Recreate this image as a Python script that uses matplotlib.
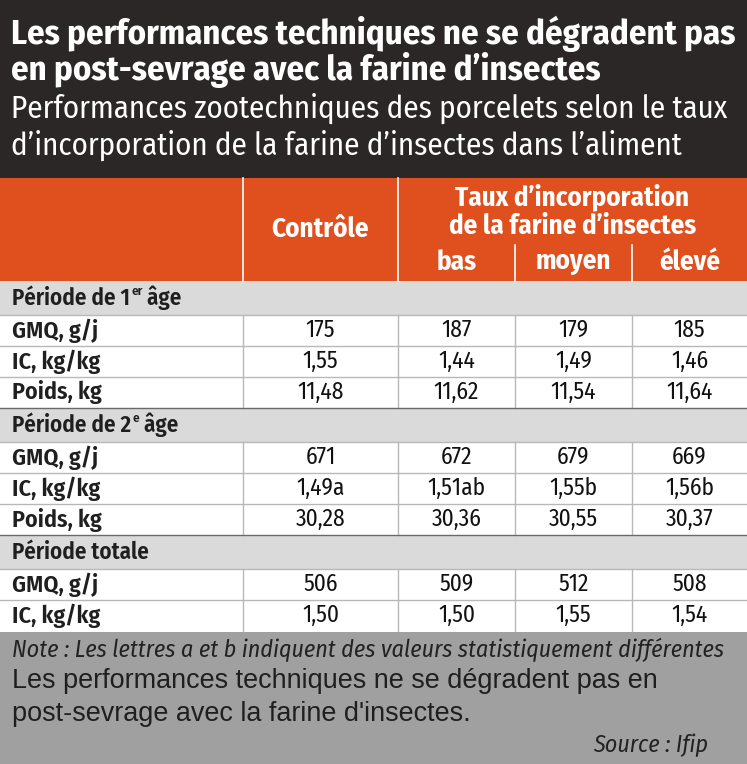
import matplotlib
matplotlib.use("Agg")
import matplotlib.pyplot as plt
from matplotlib.patches import Rectangle
from matplotlib import font_manager as fm

W, H = 747, 764

title = ["Les performances techniques ne se dégradent pas",
         "en post-sevrage avec la farine d’insectes"]
subtitle = ["Performances zootechniques des porcelets selon le taux",
            "d’incorporation de la farine d’insectes dans l’aliment"]
group_header = ["Taux d’incorporation", "de la farine d’insectes"]
columns = ["Contrôle", "bas", "moyen", "élevé"]

sections = [("Période de 1", "er", " âge"),
            ("Période de 2", "e", " âge"),
            ("Période totale", "", "")]
row_labels = [["GMQ, g/j", "IC, kg/kg", "Poids, kg"],
              ["GMQ, g/j", "IC, kg/kg", "Poids, kg"],
              ["GMQ, g/j", "IC, kg/kg"]]
controle = [["175", "1,55", "11,48"], ["671", "1,49a", "30,28"], ["506", "1,50"]]
bas = [["187", "1,44", "11,62"], ["672", "1,51ab", "30,36"], ["509", "1,50"]]
moyen = [["179", "1,49", "11,54"], ["679", "1,55b", "30,55"], ["512", "1,55"]]
eleve = [["185", "1,46", "11,64"], ["669", "1,56b", "30,37"], ["508", "1,54"]]

note = "Note : Les lettres a et b indiquent des valeurs statistiquement différentes"
caption = ["Les performances techniques ne se dégradent pas en",
           "post-sevrage avec la farine d'insectes."]
source = "Source : Ifip"

# condensed face if present, otherwise DejaVu with smaller sizes
available = set(f.name for f in fm.fontManager.ttflist)
if "Fira Sans Condensed" in available:
    FONT, K = ["Fira Sans Condensed", "DejaVu Sans"], 1.0
else:
    FONT, K = ["DejaVu Sans"], 0.74
BODY = ["Liberation Sans", "DejaVu Sans"]

DARK = "#2b2727"
ORANGE = "#e0501f"
BAND = "#dadada"
FOOT = "#a0a0a0"
LINE = "#b8b8b8"
INK = "#1f1f1f"

fig = plt.figure(figsize=(W / 100, H / 100), dpi=100)
ax = fig.add_axes([0, 0, 1, 1])
ax.set_xlim(0, W)
ax.set_ylim(H, 0)
ax.axis("off")


def px(v, k=None):
    return v * 72 / 100 * (K if k is None else k)


def rect(x0, y0, x1, y1, c):
    ax.add_patch(Rectangle((x0, y0), x1 - x0, y1 - y0, color=c, lw=0))


# backgrounds
rect(0, 0, W, 178, DARK)
rect(0, 178, W, 281, ORANGE)
rect(0, 632, W, H, FOOT)

for i, t in enumerate(title):
    ax.text(11, 34 + i * 36, t, color="white", fontsize=px(34.7), fontweight="bold",
            family=FONT, va="center", ha="left")
for i, t in enumerate(subtitle):
    ax.text(11, 108 + i * 37, t, color="white", fontsize=px(31),
            family=FONT, va="center", ha="left")

col_x = [243, 398, 515, 632, W]
centers = [(col_x[i] + col_x[i + 1]) / 2 for i in range(4)]

# header
ax.plot([243, 243], [178, 281], color="white", lw=1.2)
ax.plot([398, 398], [178, 281], color="white", lw=1.2)
for x in (515, 632):
    ax.plot([x, x], [245, 281], color="white", lw=1.2)
ax.text(centers[0], 229, columns[0], color="white", fontsize=px(27), fontweight="bold",
        family=FONT, ha="center", va="center")
for i, t in enumerate(group_header):
    ax.text((398 + W) / 2, 197 + i * 29, t, color="white", fontsize=px(27),
            fontweight="bold", family=FONT, ha="center", va="center")
for c, t in zip(centers[1:], columns[1:]):
    ax.text(c, 262, t, color="white", fontsize=px(27), fontweight="bold",
            family=FONT, ha="center", va="center")

fig.canvas.draw()
renderer = fig.canvas.get_renderer()


def right_edge(t):
    bb = t.get_window_extent(renderer)
    return ax.transData.inverted().transform((bb.x1, bb.y0))[0]


y = 281
row_h = 31
band_h = 34
for s, sec in enumerate(sections):
    rect(0, y, W, y + band_h, BAND)
    yc = y + band_h / 2
    t1 = ax.text(12, yc, sec[0], color=INK, fontsize=px(23), fontweight="semibold",
                 family=FONT, ha="left", va="center")
    if sec[1]:
        t2 = ax.text(right_edge(t1) + 1, yc - 7, sec[1], color=INK, fontsize=px(13),
                     fontweight="semibold", family=FONT, ha="left", va="center")
        ax.text(right_edge(t2), yc, sec[2], color=INK, fontsize=px(23),
                fontweight="semibold", family=FONT, ha="left", va="center")
    y += band_h
    n = len(row_labels[s])
    for r in range(n):
        ax.plot([0, W], [y, y], color=LINE, lw=1)
        yc = y + row_h / 2
        ax.text(12, yc, row_labels[s][r], color=INK, fontsize=px(24),
                fontweight="semibold", family=FONT, ha="left", va="center")
        vals = [controle[s][r], bas[s][r], moyen[s][r], eleve[s][r]]
        for c, v in zip(centers, vals):
            ax.text(c, yc, v, color="#111111", fontsize=px(23.5), fontweight="normal",
                    family=FONT, ha="center", va="center")
        for x in col_x[:4]:
            ax.plot([x, x], [y, y + row_h], color=LINE, lw=1)
        y += row_h
    if s < len(sections) - 1:
        ax.plot([0, W], [y, y], color="#6a6a6a", lw=1)

ax.text(12, 650, note, color="#222222", fontsize=px(24), style="italic",
        family=FONT, ha="left", va="center")
for i, t in enumerate(caption):
    ax.text(12, 681 + i * 33, t, color=INK, fontsize=px(27, 1.0),
            family=BODY, ha="left", va="center")
ax.text(708, 745, source, color="#222222", fontsize=px(24), style="italic",
        family=FONT, ha="right", va="center")

fig.savefig("out.png", dpi=100)
